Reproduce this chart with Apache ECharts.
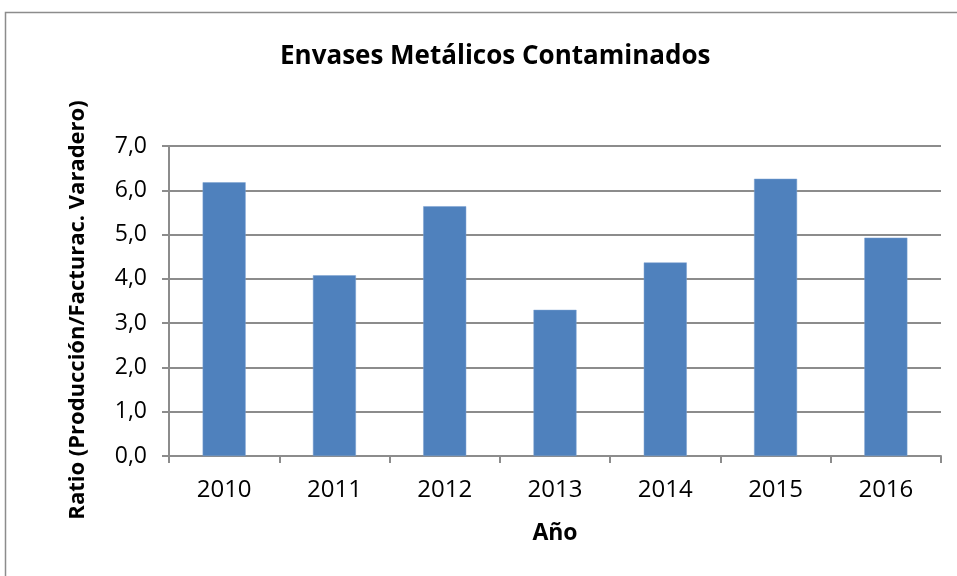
<!DOCTYPE html>
<html>
<head>
<meta charset="utf-8">
<script src="https://cdn.jsdelivr.net/npm/echarts@6/dist/echarts.min.js"></script>
<style>
  html, body { margin: 0; padding: 0; background: #fff; }
  #chart { width: 957px; height: 576px; }
</style>
</head>
<body>
<div id="chart"></div>
<script>
const years = ["2010", "2011", "2012", "2013", "2014", "2015", "2016"];
const ratios = [6.18, 4.08, 5.64, 3.30, 4.37, 6.26, 4.93];
const yTicks = [0, 1, 2, 3, 4, 5, 6, 7];

const chart = echarts.init(document.getElementById("chart"));
const fontFam = "Open Sans";
const gridColor = "#8c8c8c";

chart.setOption({
  animation: false,
  title: {
    text: "Envases Metálicos Contaminados",
    left: 275,
    top: 39,
    textStyle: {
      fontFamily: fontFam,
      fontWeight: "bold",
      fontSize: 26,
      color: "#000",
    },
  },
  graphic: [
    {
      // marco del gráfico
      type: "rect",
      shape: { x: 5.5, y: 12.5, width: 960, height: 580 },
      style: { fill: null, stroke: "#8c8c8c", lineWidth: 1.5 },
    },
  ],
  grid: {
    left: 169,
    right: 16,
    top: 146,
    bottom: 120,
  },
  xAxis: {
    type: "category",
    data: years,
    name: "Año",
    nameLocation: "middle",
    nameGap: 66,
    nameTextStyle: {
      fontFamily: fontFam,
      fontWeight: "bold",
      fontSize: 23,
      color: "#000",
    },
    axisLine: { lineStyle: { color: gridColor, width: 2 } },
    axisTick: { show: true, length: 7, lineStyle: { color: gridColor, width: 2 } },
    axisLabel: {
      fontFamily: fontFam,
      fontSize: 24,
      color: "#000",
      margin: 22,
    },
  },
  yAxis: {
    type: "value",
    min: yTicks[0],
    max: yTicks[yTicks.length - 1],
    interval: 1,
    name: "Ratio (Producción/Facturac. Varadero)",
    nameLocation: "middle",
    nameGap: 80,
    nameTextStyle: {
      fontFamily: fontFam,
      fontWeight: "bold",
      fontSize: 22,
      color: "#000",
      padding: [0, 18, 0, 0],
    },
    axisLine: { show: true, lineStyle: { color: gridColor, width: 2 } },
    axisTick: { show: true, length: 7, lineStyle: { color: gridColor, width: 2 } },
    splitLine: { lineStyle: { color: gridColor, width: 2 } },
    axisLabel: {
      fontFamily: fontFam,
      fontSize: 23,
      color: "#000",
      margin: 22,
      formatter: (v) => v.toFixed(1).replace(".", ","),
    },
  },
  series: [
    {
      type: "bar",
      data: ratios,
      barWidth: "39%",
      itemStyle: {
        color: "#4f81bd",
        borderColor: "#7aa0d0",
        borderWidth: 0.5,
      },
    },
  ],
});
</script>
</body>
</html>
